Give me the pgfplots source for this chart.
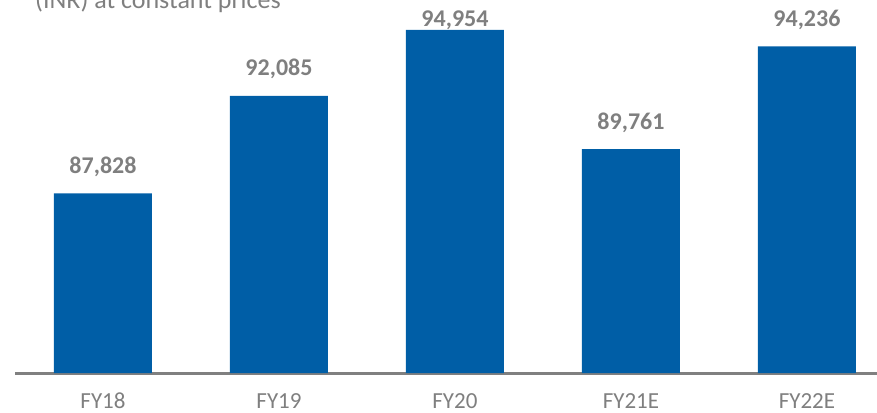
\documentclass[border=0pt]{standalone}
\usepackage{fontspec}
\setmainfont{Carlito}
\usepackage{pgfplots}
\usepackage{pgfplotstable}
\pgfplotsset{compat=1.18}
\definecolor{barblue}{HTML}{005EA6}
\definecolor{txtgray}{HTML}{7F7F7F}
\definecolor{axgray}{HTML}{808080}
\pgfplotstableread{
x val off
0 87828 20
1 92085 20
2 94954 3.5
3 89761 20
4 94236 20
}\datatable
\begin{document}
\begin{tikzpicture}[x=1pt,y=1pt]
\begin{axis}[
  at={(15pt,39pt)}, anchor=south west,
  scale only axis, width=862pt, height=373pt,
  xmin=-0.5, xmax=4.398, ymin=80000, ymax=96260,
  axis x line=bottom, axis y line=none,
  axis line style={axgray, line width=3pt, -},
  x axis line style={-},
  xtick=data, xticklabels={FY18,FY19,FY20,FY21E,FY22E},
  major tick length=0pt,
  xticklabel style={anchor=base, yshift=-35.5pt, text=txtgray, font=\fontsize{23}{27}\selectfont},
  ytick=\empty,
  clip=false,
  ybar, bar width=98pt, bar shift=0pt,
  /pgf/number format/assume math mode=true,
  visualization depends on={\thisrow{off} \as \off},
  nodes near coords={\pgfmathprintnumber[fixed, precision=0, 1000 sep={,}, assume math mode=true]{\pgfplotspointmeta}},
  point meta=explicit,
  nodes near coords style={anchor=base, yshift=\off pt, text=txtgray, font=\bfseries\fontsize{24}{28}\selectfont, inner sep=0pt},
]
\addplot[fill=barblue, draw=none] table[x=x, y=val, meta=val] {\datatable};
\end{axis}
\node[anchor=base west, text=txtgray, font=\fontsize{26}{30}\selectfont, inner sep=0pt] at (35pt,403pt) {(INR) at constant prices};
\pgfresetboundingbox
\useasboundingbox (0pt,0pt) rectangle (877pt,412pt);
\end{tikzpicture}
\end{document}
